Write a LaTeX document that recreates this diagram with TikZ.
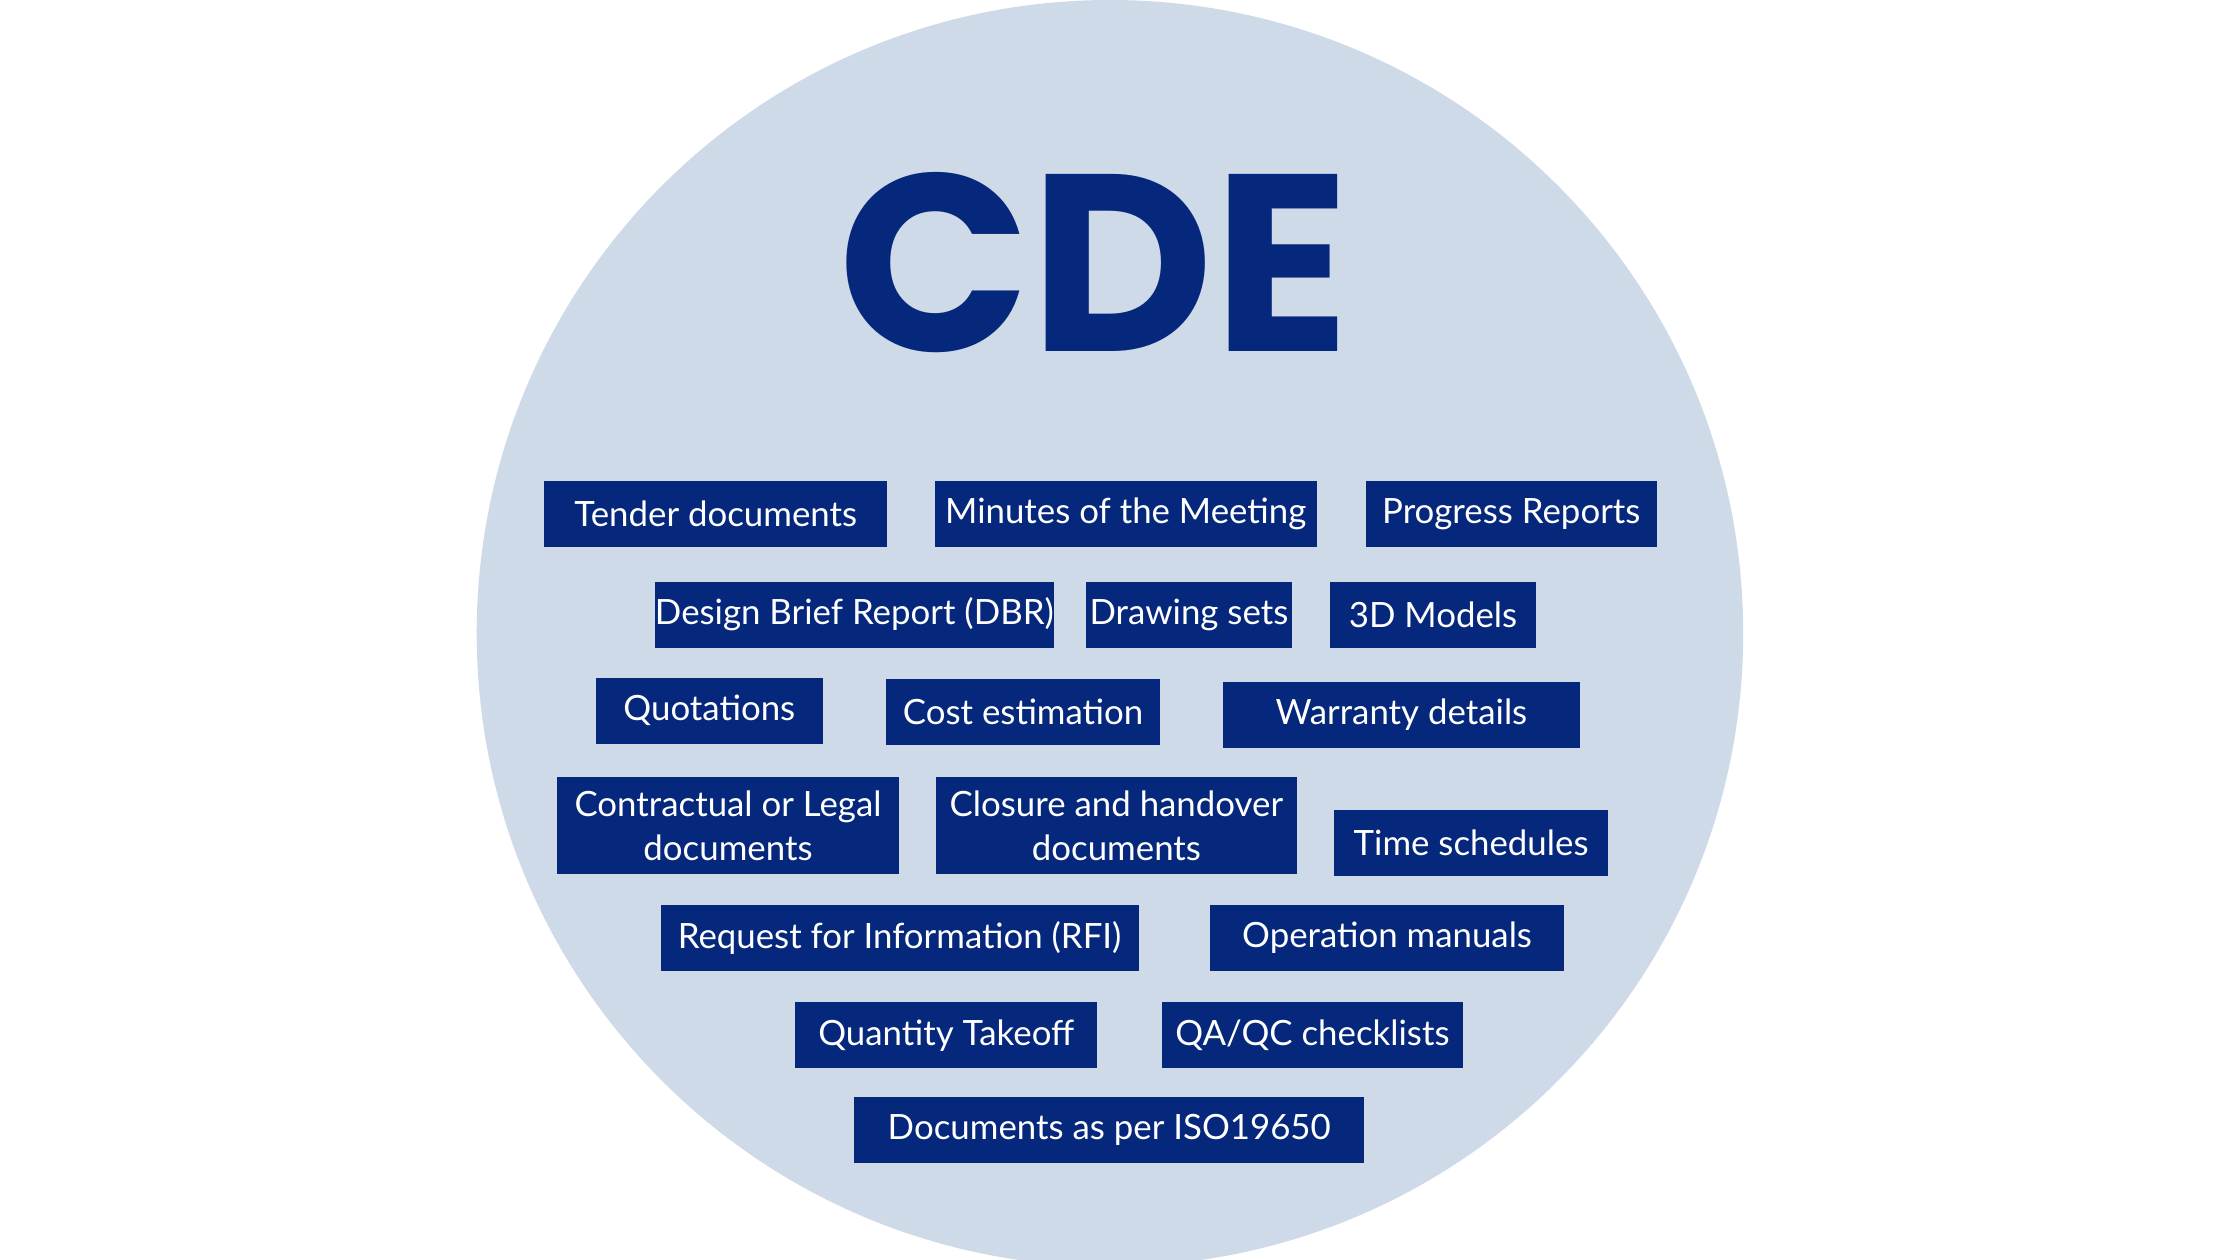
\documentclass[tikz,border=0pt]{standalone}
\usepackage{fontspec}
\setmainfont{Lato}
\newfontfamily\cdefont{Poppins}
\definecolor{navy}{HTML}{06287C}
\definecolor{disc}{HTML}{CFDAE9}
\begin{document}
\begin{tikzpicture}[x=0.1mm,y=-0.1mm,
  box/.style={fill=navy,text=white,inner sep=0pt,align=center,
    font=\fontsize{6.9pt}{8.6pt}\selectfont}]
\useasboundingbox (0,0) rectangle (1560,877.5);
\fill[disc] (773,441) circle[radius=441];
\node[text=navy,font=\cdefont\bfseries\fontsize{50pt}{50pt}\selectfont,inner sep=0] (cde) at (762,183) {CDE};
\newcommand\bx[6]{\node[box,minimum width={(#3-#2)*0.1mm},minimum height={(#5-#4)*0.1mm}] (#1) at ({(#2+#3)/2},{(#4+#5)/2}) {#6};}
\bx{t1}{379}{618}{335}{381}{Tender documents}
\bx{t2}{651}{917}{335}{381}{Minutes of the Meeting}
\bx{t3}{951}{1154}{335}{381}{Progress Reports}
\bx{t4}{458}{732}{405}{451}{Design Brief Report (DBR)}
\bx{t5}{756}{900}{405}{451}{Drawing sets}
\bx{t6}{926}{1070}{405}{451}{3D Models}
\bx{t7}{415}{573}{472}{518}{Quotations}
\bx{t8}{617}{808}{473}{519}{Cost estimation}
\bx{t9}{852}{1100}{475}{521}{Warranty details}
\bx{t10}{388}{626}{541}{609}{Contractual or Legal\\documents}
\bx{t11}{652}{903}{541}{609}{Closure and handover\\documents}
\bx{t12}{929}{1120}{564}{610}{Time schedules}
\bx{t13}{460}{793}{630}{676}{Request for Information (RFI)}
\bx{t14}{843}{1089}{630}{676}{Operation manuals}
\bx{t15}{554}{764}{698}{744}{Quantity Takeoff}
\bx{t16}{809}{1019}{698}{744}{QA/QC checklists}
\bx{t17}{595}{950}{764}{810}{Documents as per ISO19650}
\end{tikzpicture}
\end{document}
